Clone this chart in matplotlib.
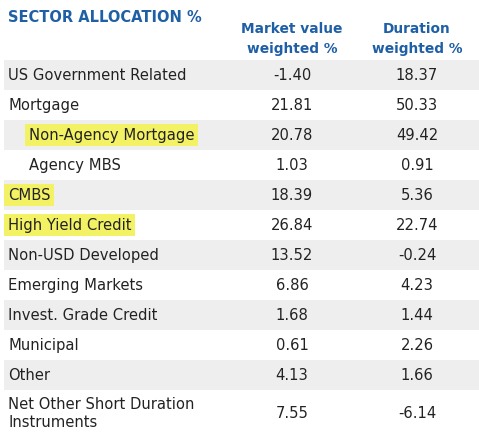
import matplotlib.pyplot as plt
from matplotlib.patches import Rectangle

# dados da tabela
sectors = ['US Government Related', 'Mortgage', 'Non-Agency Mortgage', 'Agency MBS',
           'CMBS', 'High Yield Credit', 'Non-USD Developed', 'Emerging Markets',
           'Invest. Grade Credit', 'Municipal', 'Other',
           'Net Other Short Duration\nInstruments']
market_value = [-1.40, 21.81, 20.78, 1.03, 18.39, 26.84, 13.52, 6.86, 1.68, 0.61, 4.13, 7.55]
duration = [18.37, 50.33, 49.42, 0.91, 5.36, 22.74, -0.24, 4.23, 1.44, 2.26, 1.66, -6.14]
indented = ['Non-Agency Mortgage', 'Agency MBS']
highlighted = ['Non-Agency Mortgage', 'CMBS', 'High Yield Credit']

blue = '#1f5fa6'
txt = '#222222'
fs = 10.6

fig = plt.figure(figsize=(4.79, 4.36), dpi=100)
ax = fig.add_axes([0, 0, 1, 1])
ax.set_xlim(0, 479)
ax.set_ylim(436, 0)
ax.axis('off')

# cabeçalho
ax.text(8, 18, 'SECTOR ALLOCATION %', color=blue, fontsize=10.5, fontweight='bold', va='center')
ax.text(292, 39, 'Market value\nweighted %', color=blue, fontsize=9.9, fontweight='bold',
        ha='center', va='center', linespacing=1.5)
ax.text(417, 39, 'Duration\nweighted %', color=blue, fontsize=9.9, fontweight='bold',
        ha='center', va='center', linespacing=1.5)

top = 60
h = 30
for i, name in enumerate(sectors):
    y0 = top + i * h
    hh = h if i < len(sectors) - 1 else 46
    if i % 2 == 0:
        ax.add_patch(Rectangle((4, y0), 475, hh, color='#eeeeee', lw=0))
    yc = y0 + hh / 2
    x = 29 if name in indented else 8
    bbox = None
    if name in highlighted:
        bbox = dict(boxstyle='square,pad=0.25', fc='#f2f264', ec='none')
    ax.text(x, yc, name, color=txt, fontsize=fs, va='center', bbox=bbox, linespacing=1.25)
    ax.text(292, yc, f'{market_value[i]:.2f}', color=txt, fontsize=fs, ha='center', va='center')
    ax.text(417, yc, f'{duration[i]:.2f}', color=txt, fontsize=fs, ha='center', va='center')

plt.savefig('out.png', dpi=100)
